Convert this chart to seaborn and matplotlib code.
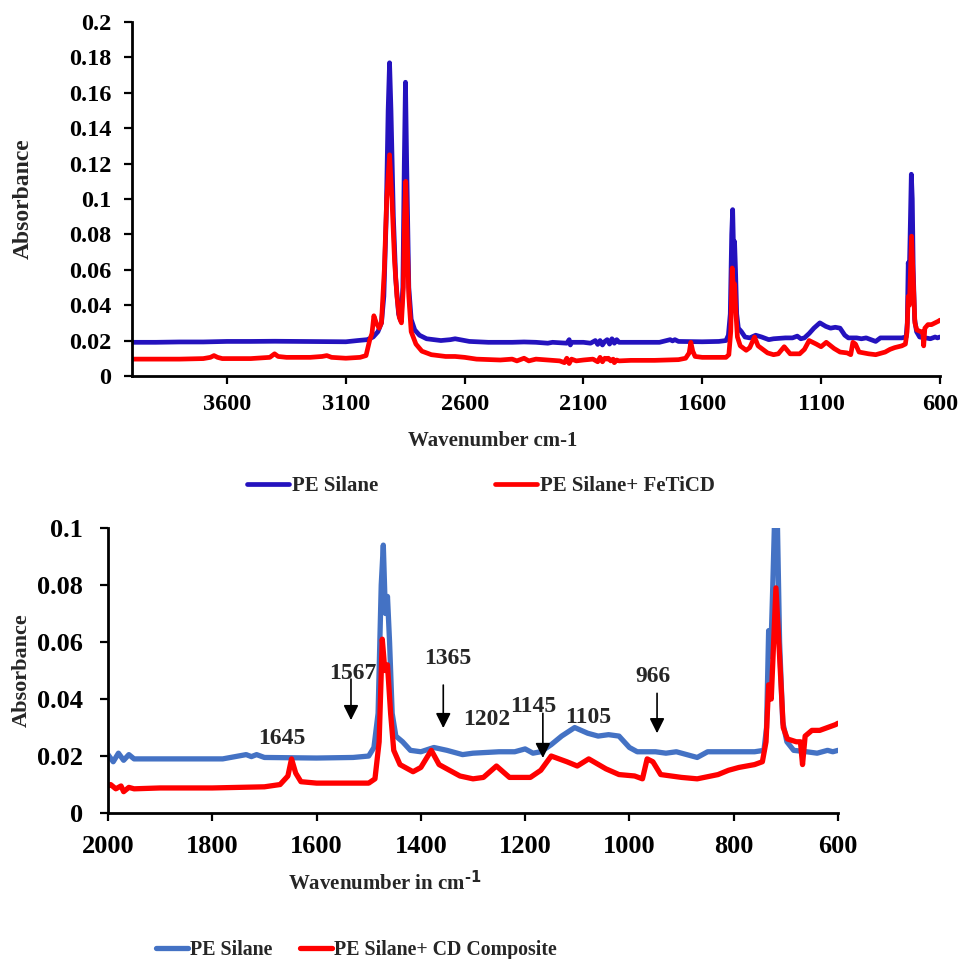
import numpy as np
import pandas as pd
import matplotlib
matplotlib.use("Agg")
import matplotlib.pyplot as plt
from matplotlib.lines import Line2D
from matplotlib.ticker import FuncFormatter, MultipleLocator
import seaborn as sns

# ---------------- data ----------------
pe_wn = [4000, 3900, 3800, 3700, 3600, 3500, 3400, 3300, 3200, 3100, 3050, 3010, 2985, 2965,
         2950, 2940, 2930, 2922, 2916, 2910, 2900, 2890, 2878, 2868, 2860, 2854, 2849, 2844,
         2835, 2825, 2810, 2790, 2760, 2700, 2660, 2640, 2620, 2580, 2500, 2400, 2350, 2300,
         2250, 2230, 2170, 2160, 2155, 2150, 2100, 2070, 2050, 2040, 2030, 2020, 2010, 2000,
         1990, 1980, 1970, 1960, 1950, 1900, 1850, 1780, 1750, 1735, 1725, 1715, 1700, 1600,
         1530, 1500, 1490, 1482, 1476, 1472, 1468, 1464, 1460, 1455, 1448, 1435, 1420, 1400,
         1375, 1350, 1320, 1300, 1250, 1220, 1200, 1185, 1170, 1150, 1130, 1105, 1080, 1060,
         1040, 1020, 1000, 985, 950, 930, 910, 890, 870, 850, 800, 760, 742, 737, 733, 729,
         725, 720, 716, 712, 706, 698, 685, 660, 640, 620, 610, 600]
pe_abs = [0.0190, 0.0190, 0.0192, 0.0192, 0.0195, 0.0195, 0.0196, 0.0195, 0.0194, 0.0193,
          0.0200, 0.0205, 0.0220, 0.0250, 0.0300, 0.0450, 0.0900, 0.1500, 0.1770, 0.1500,
          0.0900, 0.0550, 0.0350, 0.0310, 0.0500, 0.1200, 0.1660, 0.1200, 0.0500, 0.0320,
          0.0260, 0.0230, 0.0210, 0.0200, 0.0205, 0.0210, 0.0205, 0.0195, 0.0190, 0.0190,
          0.0192, 0.0190, 0.0185, 0.0190, 0.0185, 0.0205, 0.0175, 0.0190, 0.0190, 0.0185,
          0.0200, 0.0178, 0.0200, 0.0175, 0.0195, 0.0205, 0.0180, 0.0210, 0.0185, 0.0205,
          0.0190, 0.0190, 0.0190, 0.0190, 0.0200, 0.0205, 0.0198, 0.0205, 0.0195, 0.0193,
          0.0195, 0.0200, 0.0230, 0.0350, 0.0800, 0.0940, 0.0700, 0.0760, 0.0600, 0.0350,
          0.0270, 0.0250, 0.0220, 0.0215, 0.0230, 0.0220, 0.0205, 0.0210, 0.0215, 0.0215,
          0.0225, 0.0210, 0.0215, 0.0240, 0.0270, 0.0300, 0.0280, 0.0270, 0.0275, 0.0270,
          0.0230, 0.0215, 0.0215, 0.0210, 0.0215, 0.0205, 0.0195, 0.0215, 0.0215, 0.0215,
          0.0220, 0.0300, 0.0640, 0.0550, 0.0800, 0.1140, 0.1000, 0.0600, 0.0320, 0.0250,
          0.0220, 0.0215, 0.0210, 0.0220, 0.0215, 0.0220]

cd_wn = [4000, 3900, 3800, 3700, 3670, 3655, 3640, 3620, 3500, 3420, 3400, 3385, 3350, 3250,
         3200, 3180, 3160, 3100, 3040, 3015, 3000, 2990, 2982, 2972, 2960, 2950, 2938, 2928,
         2916, 2906, 2895, 2885, 2875, 2866, 2858, 2853, 2848, 2843, 2835, 2825, 2805, 2780,
         2740, 2680, 2640, 2600, 2550, 2450, 2400, 2380, 2350, 2330, 2300, 2250, 2200, 2180,
         2170, 2160, 2150, 2130, 2100, 2060, 2040, 2030, 2020, 2010, 2000, 1995, 1985, 1975,
         1970, 1960, 1950, 1900, 1800, 1700, 1670, 1655, 1648, 1640, 1630, 1600, 1500, 1488,
         1480, 1474, 1469, 1464, 1458, 1452, 1440, 1430, 1415, 1400, 1390, 1380, 1365, 1345,
         1325, 1300, 1280, 1255, 1230, 1190, 1170, 1150, 1120, 1100, 1078, 1045, 1020, 990,
         975, 966, 955, 940, 900, 870, 830, 810, 790, 760, 745, 738, 733, 728, 719, 712, 705,
         697, 680, 672, 668, 663, 650, 635, 620, 605, 600]
cd_abs = [0.0095, 0.0095, 0.0095, 0.0098, 0.0105, 0.0115, 0.0105, 0.0098, 0.0098, 0.0105,
          0.0125, 0.0110, 0.0105, 0.0105, 0.0110, 0.0115, 0.0105, 0.0100, 0.0105, 0.0115,
          0.0200, 0.0240, 0.0340, 0.0300, 0.0270, 0.0300, 0.0600, 0.1000, 0.1250, 0.1000,
          0.0650, 0.0450, 0.0330, 0.0300, 0.0500, 0.0900, 0.1100, 0.0850, 0.0450, 0.0250,
          0.0180, 0.0140, 0.0120, 0.0110, 0.0110, 0.0105, 0.0095, 0.0090, 0.0095, 0.0085,
          0.0100, 0.0085, 0.0095, 0.0090, 0.0085, 0.0075, 0.0100, 0.0070, 0.0095, 0.0085,
          0.0090, 0.0095, 0.0080, 0.0105, 0.0080, 0.0100, 0.0095, 0.0100, 0.0085, 0.0095,
          0.0075, 0.0090, 0.0085, 0.0088, 0.0088, 0.0092, 0.0100, 0.0130, 0.0190, 0.0140,
          0.0110, 0.0105, 0.0105, 0.0120, 0.0250, 0.0610, 0.0500, 0.0520, 0.0350, 0.0220,
          0.0170, 0.0160, 0.0145, 0.0160, 0.0190, 0.0220, 0.0170, 0.0150, 0.0130, 0.0120,
          0.0125, 0.0165, 0.0125, 0.0125, 0.0150, 0.0200, 0.0180, 0.0165, 0.0190, 0.0155,
          0.0135, 0.0130, 0.0120, 0.0190, 0.0180, 0.0135, 0.0125, 0.0120, 0.0135, 0.0150,
          0.0160, 0.0170, 0.0180, 0.0250, 0.0450, 0.0400, 0.0790, 0.0550, 0.0300, 0.0260,
          0.0250, 0.0250, 0.0170, 0.0270, 0.0290, 0.0290, 0.0300, 0.0310, 0.0315]

top_labels = ["PE Silane", "PE Silane+ FeTiCD"]
bottom_labels = ["PE Silane", "PE Silane+ CD Composite"]
top_xticks = [3600, 3100, 2600, 2100, 1600, 1100, 600]
bottom_xticks = [2000, 1800, 1600, 1400, 1200, 1000, 800, 600]

peak_labels = ["1645", "1567", "1365", "1202", "1145", "1105", "966"]
peak_text_x = [1666, 1530, 1348, 1273, 1185, 1079, 955]
peak_text_y = [0.0262, 0.0490, 0.0542, 0.0328, 0.0374, 0.0335, 0.0479]
arrow_x = [None, 1534, 1357, None, 1166, None, 947]
arrow_y0 = [None, 0.0470, 0.0449, None, 0.0350, None, 0.0420]
arrow_y1 = [None, 0.0326, 0.0298, None, 0.0193, None, 0.0280]

# ---------------- style ----------------
sns.set_style("ticks")
plt.rcParams["font.family"] = ["Liberation Serif", "DejaVu Serif"]
plt.rcParams["font.weight"] = "bold"
plt.rcParams["axes.labelweight"] = "bold"
plt.rcParams["mathtext.default"] = "regular"
plt.rcParams["axes.edgecolor"] = "black"
plt.rcParams["xtick.color"] = "black"
plt.rcParams["ytick.color"] = "black"

top_colors = ["#2412BE", "#FF0000"]
bot_colors = ["#4472C4", "#FF0000"]

df_top = pd.concat([
    pd.DataFrame({"wn": pe_wn, "abs": pe_abs, "series": top_labels[0]}),
    pd.DataFrame({"wn": cd_wn, "abs": cd_abs, "series": top_labels[1]}),
])
pe_df = pd.DataFrame({"wn": pe_wn, "abs": pe_abs})
cd_df = pd.DataFrame({"wn": cd_wn, "abs": cd_abs})
df_bot = pd.concat([
    pe_df[pe_df.wn <= 2000].assign(series=bottom_labels[0]),
    cd_df[cd_df.wn <= 2000].assign(series=bottom_labels[1]),
])

fig = plt.figure(figsize=(9.6, 9.59), dpi=100)
ax1 = fig.add_axes([0.1375, 0.608, 0.8415, 0.369])
ax2 = fig.add_axes([0.1125, 0.1522, 0.7604, 0.2972])

fmt = FuncFormatter(lambda v, p: f"{v:g}")

# ---------------- top panel ----------------
sns.lineplot(data=df_top, x="wn", y="abs", hue="series", palette=top_colors,
             hue_order=top_labels, estimator=None, sort=False, linewidth=3.4,
             legend=False, ax=ax1)
ax1.set_xlim(4000, 600)
ax1.set_ylim(0, 0.2)
ax1.set_xticks(top_xticks)
ax1.yaxis.set_major_locator(MultipleLocator(0.02))
ax1.yaxis.set_major_formatter(fmt)
ax1.tick_params(axis="both", labelsize=17.5, length=6, width=1.6, direction="out")
ax1.tick_params(axis="x", pad=7)
ax1.tick_params(axis="y", pad=9)
ax1.set_xlabel("Wavenumber cm-1", fontsize=15, fontweight="bold")
ax1.set_ylabel("Absorbance", fontsize=17, fontweight="bold")
ax1.xaxis.set_label_coords(0.446, -0.155)
ax1.yaxis.set_label_coords(-0.121, 0.5)
for t in ax1.get_xticklabels() + ax1.get_yticklabels():
    t.set_fontweight("bold")

# ---------------- bottom panel ----------------
sns.lineplot(data=df_bot, x="wn", y="abs", hue="series", palette=bot_colors,
             hue_order=bottom_labels, estimator=None, sort=False, linewidth=3.8,
             legend=False, ax=ax2)
ax2.set_xlim(2000, 600)
ax2.set_ylim(0, 0.1)
ax2.set_xticks(bottom_xticks)
ax2.yaxis.set_major_locator(MultipleLocator(0.02))
ax2.yaxis.set_major_formatter(fmt)
ax2.tick_params(axis="both", labelsize=19, length=6, width=1.6, direction="out")
ax2.tick_params(axis="x", pad=10)
ax2.tick_params(axis="y", pad=12)
ax2.set_xlabel(r"Wavenumber in cm$^{\text{-1}}$", fontsize=15, fontweight="bold")
ax2.set_ylabel("Absorbance", fontsize=16, fontweight="bold")
ax2.xaxis.set_label_coords(0.379, -0.20)
ax2.yaxis.set_label_coords(-0.105, 0.5)
for t in ax2.get_xticklabels() + ax2.get_yticklabels():
    t.set_fontweight("bold")

for lab, tx, ty, axx, ay0, ay1 in zip(peak_labels, peak_text_x, peak_text_y,
                                      arrow_x, arrow_y0, arrow_y1):
    ax2.text(tx, ty, lab, ha="center", va="center", fontsize=17, fontweight="bold")
    if axx is not None:
        ax2.annotate("", xy=(axx, ay1), xytext=(axx, ay0),
                     arrowprops=dict(arrowstyle="-|>,head_length=0.9,head_width=0.45",
                                     color="black", lw=1.2, shrinkA=0, shrinkB=0))

for ax in (ax1, ax2):
    sns.despine(ax=ax)
    for s in ("left", "bottom"):
        ax.spines[s].set_linewidth(2.0)
        ax.spines[s].set_color("black")

# ---------------- legends ----------------
h_top = [Line2D([0], [0], color=c, lw=3.4) for c in top_colors]
fig.legend(h_top, top_labels, loc="center", bbox_to_anchor=(0.501, 0.493), ncol=2,
           frameon=False, handlelength=2.0, handletextpad=0.15, columnspacing=5.6,
           prop={"size": 15, "weight": "bold"})
h_bot = [Line2D([0], [0], color=c, lw=3.8) for c in bot_colors]
fig.legend(h_bot, bottom_labels, loc="center", bbox_to_anchor=(0.371, 0.009), ncol=2,
           frameon=False, handlelength=1.6, handletextpad=0.1, columnspacing=1.4,
           prop={"size": 14.3, "weight": "bold"})

fig.savefig("out.png", dpi=100, facecolor="white")
